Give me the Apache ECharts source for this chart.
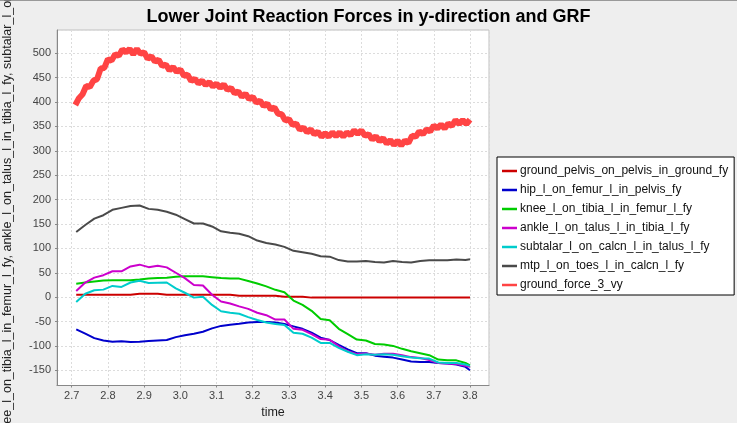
<!DOCTYPE html>
<html><head><meta charset="utf-8">
<script src="https://cdn.jsdelivr.net/npm/echarts@6/dist/echarts.min.js"></script>
<style>html,body{margin:0;padding:0;background:#eeeeee;overflow:hidden;} #c{width:737px;height:423px;}</style>
</head><body><div id="c"></div>
<script>
const seriesNames = [
  'ground_pelvis_on_pelvis_in_ground_fy',
  'hip_l_on_femur_l_in_pelvis_fy',
  'knee_l_on_tibia_l_in_femur_l_fy',
  'ankle_l_on_talus_l_in_tibia_l_fy',
  'subtalar_l_on_calcn_l_in_talus_l_fy',
  'mtp_l_on_toes_l_in_calcn_l_fy',
  'ground_force_3_vy'
];
const times = [2.7125,2.7375,2.7625,2.7875,2.8125,2.8375,2.8625,2.8875,2.9125,2.9375,2.9625,2.9875,3.0125,3.0375,3.0625,3.0875,3.1125,3.1375,3.1625,3.1875,3.2125,3.2375,3.2625,3.2875,3.3125,3.3375,3.3625,3.3875,3.4125,3.4375,3.4625,3.4875,3.5125,3.5375,3.5625,3.5875,3.6125,3.6375,3.6625,3.6875,3.7125,3.7375,3.7625,3.7875,3.8];
const groundPelvis = [5,5,5,5,5,5,5,7,7,7,5,5,5,5,5,5,5,5,3,3,3,3,3,1,1,1,-1,-1,-1,-1,-1,-1,-1,-1,-1,-1,-1,-1,-1,-1,-1,-1,-1,-1,-1];
const hip = [-66,-75,-84,-89,-91.5,-90.5,-92,-91.5,-90,-89,-88,-82,-78,-75,-71,-64,-59,-56.5,-54.5,-52,-51,-51,-52,-55,-60,-65,-73,-83,-88,-98,-107,-115,-115,-120,-122,-124,-128,-132,-133,-133,-135,-136,-138,-143,-150];
const knee = [27.6,30,32,34,34.4,34.4,34.4,36,38,39,40,42,42.6,42.6,42.6,41,39,38,38,33,28,22,15,10,-7,-16,-28,-45,-47.6,-65,-76,-87,-89,-96,-97,-100,-106,-111,-115,-119,-128,-129.6,-129.6,-135,-140];
const ankle = [12.5,30,40,45,53,53,63,66.6,61.5,64.5,61,50,39,25,24,5,-9,-13,-19,-24,-32,-37,-46,-46,-65,-67,-76,-86,-87.5,-101,-111,-117,-115.5,-118,-116,-116,-119,-123,-125,-129,-135,-136,-137,-141,-143];
const subtalar = [-10,7,14,15.4,23,21,30,33.5,29,29.5,30,18,9,-1,1,-16,-29,-32,-34,-41,-47,-52,-55,-57,-73,-75,-83,-94,-94,-104,-112,-119,-117,-118,-117,-118,-121,-124,-125.5,-126,-134,-135,-135,-138,-141];
const mtp = [133.5,148,161,168,179,183,187,188,181,179,175,169,160,151,151,145,135,132,130,125,116,111,108,103,95,92,89,84,83,76,73,73,74,72,71,74,72,71,74,75.5,75.5,75.5,77,76,77.5];
const grfTimes = [2.71,2.72,2.73,2.74,2.75,2.76,2.77,2.78,2.79,2.80,2.81,2.82,2.83,2.84,2.85,2.86,2.87,2.88,2.89,2.90,2.91,2.92,2.93,2.94,2.95,2.96,2.97,2.98,2.99,3.00,3.01,3.02,3.03,3.04,3.05,3.06,3.07,3.08,3.09,3.10,3.11,3.12,3.13,3.14,3.15,3.16,3.17,3.18,3.19,3.20,3.21,3.22,3.23,3.24,3.25,3.26,3.27,3.28,3.29,3.30,3.31,3.32,3.33,3.34,3.35,3.36,3.37,3.38,3.39,3.40,3.41,3.42,3.43,3.44,3.45,3.46,3.47,3.48,3.49,3.50,3.51,3.52,3.53,3.54,3.55,3.56,3.57,3.58,3.59,3.60,3.61,3.62,3.63,3.64,3.65,3.66,3.67,3.68,3.69,3.70,3.71,3.72,3.73,3.74,3.75,3.76,3.77,3.78,3.79,3.80];
const grf = [394,408,416,433,431,444,447,469,470,488,485,498,495,508,502,509,498,509,499,502,489,494,483,487,474,477,465,472,462,467,454,456,443,448,438,444,435,441,432,438,429,436,425,429,418,422,411,417,406,411,399,403,392,397,385,389,376,375,362,365,353,356,343,348,338,344,334,339,329,336,329,338,330,338,329,338,332,342,335,342,331,334,323,330,320,326,315,322,312,321,311,321,316,331,329,340,334,344,340,352,346,354,346,356,351,363,355,363,355,364];
const colors = ['#cc0000','#0000cc','#00cc00','#cc00cc','#00cccc','#4a4a4a','#ff4444'];

const jointSets = [groundPelvis, hip, knee, ankle, subtalar, mtp];
const pair = (xs, ys) => xs.map((x, i) => [x, ys[i]]);
const series = jointSets.map((vals, i) => ({
  name: seriesNames[i], type: 'line', data: pair(times, vals), showSymbol: false, symbol: 'none',
  lineStyle: { width: 2, color: colors[i] }, itemStyle: { color: colors[i] }
}));
series.push({
  name: seriesNames[6], type: 'line', data: pair(grfTimes, grf), showSymbol: false, symbol: 'none',
  lineStyle: { width: 6, color: colors[6] }, itemStyle: { color: colors[6] }
});

const chart = echarts.init(document.getElementById('c'), null, { renderer: 'canvas' });
const FONT = 'Liberation Sans, Arial, sans-serif';
chart.setOption({
  animation: false,
  backgroundColor: '#eeeeee',
  textStyle: { fontFamily: FONT },
  title: {
    text: 'Lower Joint Reaction Forces in y-direction and GRF',
    left: 'center', top: 3,
    textStyle: { fontFamily: FONT, fontSize: 18, fontWeight: 'bold', color: '#000' }
  },
  graphic: [{ type: 'rect', shape: { x: 0, y: 0, width: 737, height: 1 }, style: { fill: '#999' }, silent: true }],
  legend: {
    orient: 'vertical', left: 497, top: 157,
    data: seriesNames,
    backgroundColor: '#ffffff', borderColor: '#000000', borderWidth: 1,
    padding: [8, 6, 4, 5], itemGap: 7,
    icon: 'rect', itemWidth: 15, itemHeight: 2.5,
    textStyle: { fontFamily: FONT, fontSize: 12, color: '#111', padding: [0, 0, 0, -2] }
  },
  grid: {
    left: 57, top: 30, right: 248, bottom: 37.5, containLabel: false, outerBoundsMode: 'none',
    show: true, backgroundColor: '#ffffff', borderColor: '#c0c0c0', borderWidth: 1
  },
  xAxis: {
    type: 'value', min: 2.6594, max: 3.8525, splitNumber: 12, minInterval: 0.1, maxInterval: 0.1,
    name: 'time', nameLocation: 'middle', nameGap: 21,
    nameTextStyle: { fontFamily: FONT, fontSize: 12.5, color: '#222' },
    axisLine: { show: true, onZero: false, lineStyle: { color: '#888' } },
    axisTick: { show: true, length: 2, lineStyle: { color: '#888' } },
    axisLabel: { fontFamily: FONT, fontSize: 11, color: '#444', margin: 5, showMinLabel: false, showMaxLabel: false,
      formatter: v => v.toFixed(1) },
    splitLine: { show: true, lineStyle: { color: '#dcdcdc', type: [2, 2] } }
  },
  yAxis: {
    type: 'value', min: -181.2, max: 547.8, splitNumber: 15, minInterval: 50, maxInterval: 50,
    name: seriesNames.join(', '), nameLocation: 'middle', nameGap: 43, nameRotate: 90,
    nameTextStyle: { fontFamily: FONT, fontSize: 12.5, color: '#222' },
    axisLine: { show: true, onZero: false, lineStyle: { color: '#888' } },
    axisTick: { show: true, length: 2, lineStyle: { color: '#888' } },
    axisLabel: { fontFamily: FONT, fontSize: 11, color: '#444', margin: 6, showMinLabel: false, showMaxLabel: false },
    splitLine: { show: true, lineStyle: { color: '#dcdcdc', type: [2, 2] } }
  },
  series: series
});
</script>
</body></html>
